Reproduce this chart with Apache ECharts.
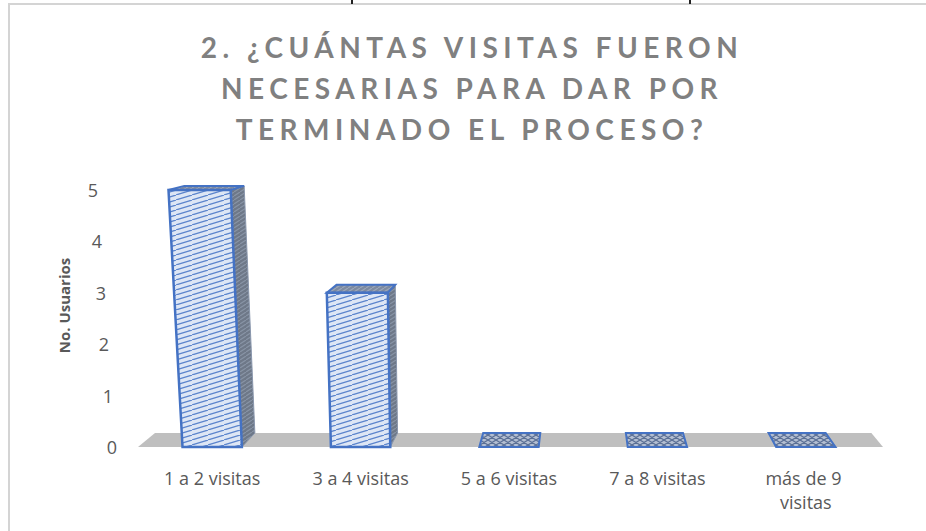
<!DOCTYPE html>
<html>
<head>
<meta charset="utf-8">
<title>Visitas</title>
<script src="https://cdn.jsdelivr.net/npm/echarts@6/dist/echarts.min.js"></script>
<style>
  html, body { margin: 0; padding: 0; background: #fff; }
  #chart { width: 926px; height: 531px; }
</style>
</head>
<body>
<div id="chart"></div>
<script>
/* datos del grafico */
var categorias = ['1 a 2 visitas', '3 a 4 visitas', '5 a 6 visitas', '7 a 8 visitas', 'más de 9 visitas'];
var usuarios = [5, 3, 0, 0, 0];
var ticksY = [0, 1, 2, 3, 4, 5];

var titulo = ['2. ¿CUÁNTAS VISITAS FUERON', 'NECESARIAS PARA DAR POR', 'TERMINADO EL PROCESO?'];

// texturas tipo excel (rayado)
function patron(fondo, raya, w, h, cruz) {
	var c = document.createElement('canvas');
	c.width = w; c.height = h;
	var ctx = c.getContext('2d');
	ctx.fillStyle = fondo;
	ctx.fillRect(0, 0, w, h);
	ctx.strokeStyle = raya;
	ctx.lineWidth = 1.2;
	ctx.beginPath();
	ctx.moveTo(0, h); ctx.lineTo(w, 0);
	ctx.moveTo(-w, h); ctx.lineTo(0, 0);
	ctx.moveTo(w, h * 2); ctx.lineTo(w * 2, h);
	if (cruz) {
		ctx.moveTo(0, 0); ctx.lineTo(w, h);
	}
	ctx.stroke();
	return { image: c, repeat: 'repeat' };
}
var patFrente = patron('#dde6f5', '#5b84cc', 16, 5, false);
var patLado = patron('#6e7888', '#8894a6', 6, 4, false);
var patArriba = patron('#7d8aa0', '#9aa6ba', 6, 4, false);
var patPlano = patron('#b4bfd2', '#5a6f95', 8, 5, true);

// perspectiva: punto de fuga vertical y de profundidad
var VX = 473, D = 5323;
var PX = 580, PY = 83, S = 0.9616;

function frente(x, y, yb) {
	return [x - (VX - x) * (yb - y) / D, y];
}
function fondo(p) {
	return [PX + (p[0] - PX) * S, PY + (p[1] - PY) * S];
}

function dibujaBarra(params, api) {
	var i = api.value(0), v = api.value(1);
	var base = api.coord([i, 0]);
	var tope = api.coord([i, v]);
	var bw = api.size([1, 0])[0] * 0.4;
	var xa = base[0] - bw / 2, xb = base[0] + bw / 2, yb = base[1], yt = tope[1];
	var azul = '#4472c4';
	if (v <= 0) {
		var a = [xa, yb], b = [xb, yb];
		return {
			type: 'polygon',
			shape: { points: [a, b, fondo(b), fondo(a)] },
			style: { fill: patPlano, stroke: azul, lineWidth: 2 }
		};
	}
	var flb = frente(xa, yb, yb), frb = frente(xb, yb, yb);
	var flt = frente(xa, yt, yb), frt = frente(xb, yt, yb);
	return {
		type: 'group',
		children: [{
			type: 'polygon',
			shape: { points: [frt, frb, fondo(frb), fondo(frt)] },
			style: { fill: patLado, stroke: '#8a97ad', lineWidth: 1 }
		}, {
			type: 'polygon',
			shape: { points: [flt, frt, fondo(frt), fondo(flt)] },
			style: { fill: patArriba, stroke: azul, lineWidth: 2 }
		}, {
			type: 'polygon',
			shape: { points: [flb, frb, frt, flt] },
			style: { fill: patFrente, stroke: azul, lineWidth: 2.5 }
		}]
	};
}

function dibujaPiso(params, api) {
	var cs = params.coordSys;
	var yb = cs.y + cs.height;
	var a = [cs.x, yb], b = [cs.x + cs.width + 3, yb];
	return {
		type: 'polygon',
		silent: true,
		shape: { points: [a, b, fondo(b), fondo(a)] },
		style: { fill: '#bfbfbf' }
	};
}

// etiquetas del eje Y desplazadas por la perspectiva
var richY = {};
ticksY.forEach(function (t) {
	richY['v' + t] = {
		fontSize: 18, color: '#595959', fontFamily: 'Open Sans',
		padding: [0, Math.round(t * 3.8), 0, 0]
	};
});

// titulo con espaciado entre letras
var graficoTitulo = titulo.map(function (linea, k) {
	return {
		type: 'text',
		x: 472,
		y: 47 + k * 41,
		style: {
			text: linea,
			align: 'center',
			verticalAlign: 'middle',
			fontFamily: 'Lato',
			fontWeight: 'bold',
			fontSize: 28,
			fill: '#808080'
		}
	};
});

var chart = echarts.init(document.getElementById('chart'), null, { renderer: 'svg' });
var option = {
	backgroundColor: '#fff',
	animation: false,
	grid: { left: 138, right: 46, top: 190, bottom: 84 },
	xAxis: {
		type: 'category',
		data: categorias,
		axisLine: { show: false },
		axisTick: { show: false },
		axisLabel: {
			interval: 0,
			margin: 19,
			fontSize: 18,
			fontFamily: 'Open Sans',
			color: '#595959',
			width: 120,
			overflow: 'break',
			lineHeight: 24
		}
	},
	yAxis: {
		type: 'value',
		min: ticksY[0],
		max: ticksY[ticksY.length - 1],
		interval: 1,
		name: 'No. Usuarios',
		nameLocation: 'middle',
		nameGap: 67,
		nameTextStyle: {
			fontSize: 15, fontWeight: 'bold', color: '#595959', fontFamily: 'Open Sans',
			padding: [0, 0, 0, 26]
		},
		axisLine: { show: false },
		axisTick: { show: false },
		splitLine: { show: false },
		axisLabel: {
			margin: 21,
			formatter: function (val) { return '{v' + val + '|' + val + '}'; },
			rich: richY
		}
	},
	series: [{
		type: 'custom',
		name: 'piso',
		renderItem: dibujaPiso,
		data: [[0, 0]],
		silent: true,
		z: 1
	}, {
		type: 'custom',
		name: 'No. Usuarios',
		renderItem: dibujaBarra,
		data: usuarios.map(function (v, i) { return [i, v]; }),
		encode: { x: 0, y: 1 },
		z: 2
	}],
	graphic: [
		{ type: 'rect', shape: { x: 8, y: 3, width: 2, height: 531 }, style: { fill: '#d4d4d4' } },
		{ type: 'rect', shape: { x: 8, y: 3, width: 918, height: 2 }, style: { fill: '#d4d4d4' } },
		{ type: 'rect', shape: { x: 351, y: 0, width: 2, height: 4 }, style: { fill: '#222' } },
		{ type: 'rect', shape: { x: 689, y: 0, width: 2, height: 4 }, style: { fill: '#222' } }
	].concat(graficoTitulo)
};
chart.setOption(option);

// el espaciado de letras del titulo (como en excel)
function espaciarTitulo() {
	var textos = document.querySelectorAll('#chart svg text');
	for (var k = 0; k < textos.length; k++) {
		if (titulo.indexOf(textos[k].textContent) >= 0) {
			textos[k].setAttribute('letter-spacing', '5.5');
		}
	}
}
chart.on('finished', espaciarTitulo);
espaciarTitulo();
</script>
</body>
</html>
